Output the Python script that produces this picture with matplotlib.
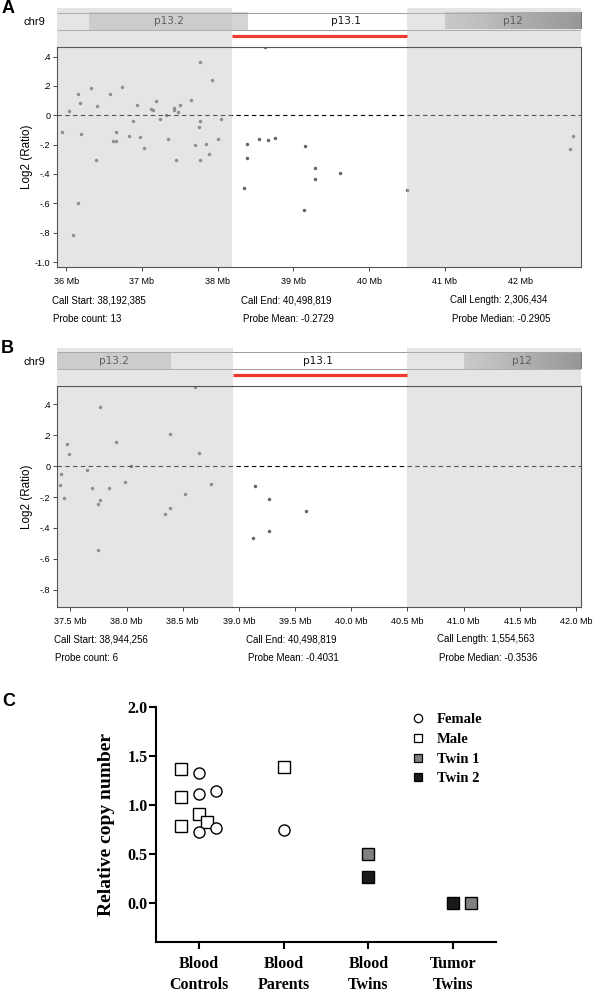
import matplotlib
matplotlib.use("Agg")
import matplotlib.pyplot as plt
import numpy as np
from matplotlib.lines import Line2D
from matplotlib.patches import Rectangle

# ---------------- data ----------------
# chr9 cytobands, Mb (hg19)
band_names = ["p13.3", "p13.2", "p13.1", "p12"]
band_start = [32.9, 36.3, 38.4, 41.0]
band_end = [36.3, 38.4, 41.0, 43.6]
band_stain = ["gneg", "gpos25", "gneg", "gpos50"]

# panel A probes: position (Mb), log2 ratio
a_pos = [35.94, 36.04, 36.15, 36.18, 36.20, 36.09, 36.15, 36.33, 36.41, 36.39,
         36.58, 36.65, 36.62, 36.66, 36.74, 36.83, 36.88, 36.93, 36.98, 37.02,
         37.12, 37.15, 37.18, 37.24, 37.32, 37.35, 37.42, 37.42, 37.45, 37.48,
         37.50, 37.65, 37.70, 37.76, 37.75, 37.77, 37.77, 37.85, 37.89, 37.92,
         38.00, 38.04,
         38.35, 38.39, 38.39, 38.54, 38.62, 38.66, 38.76, 39.14, 39.15, 39.29,
         39.29, 39.61, 40.50,
         42.65, 42.69]
a_ratio = [-0.116, 0.027, 0.143, 0.082, -0.130, -0.819, -0.601, 0.184, 0.061, -0.303,
           0.146, -0.116, -0.175, -0.175, 0.193, -0.143, -0.036, 0.071, -0.150, -0.223,
           0.043, 0.039, 0.100, -0.027, 0.002, -0.159, 0.050, 0.034, -0.303, 0.020,
           0.073, 0.107, -0.200, -0.041, -0.077, 0.360, -0.303, -0.193, -0.264, 0.243,
           -0.164, -0.027,
           -0.494, -0.196, -0.289, -0.159, 0.465, -0.171, -0.152, -0.644, -0.212, -0.360,
           -0.437, -0.391, -0.512,
           -0.232, -0.141]
a_call_start = 38192385
a_call_end = 40498819
a_probe_count = 13
a_probe_mean = -0.2729
a_probe_median = -0.2905
a_xticks = [36, 37, 38, 39, 40, 41, 42]
a_xticklabels = ["36 Mb", "37 Mb", "38 Mb", "39 Mb", "40 Mb", "41 Mb", "42 Mb"]
a_yticks = [0.4, 0.2, 0, -0.2, -0.4, -0.6, -0.8, -1.0]
a_yticklabels = [".4", ".2", "0", "-.2", "-.4", "-.6", "-.8", "-1.0"]

# panel B probes
b_pos = [37.408, 37.417, 37.444, 37.473, 37.488, 37.646, 37.696, 37.744, 37.764, 37.764,
         37.749, 37.842, 37.907, 37.984, 38.037, 38.340, 38.384, 38.384, 38.520, 38.607,
         38.648, 38.752,
         39.143, 39.125, 39.271, 39.271, 39.597]
b_ratio = [-0.119, -0.050, -0.205, 0.144, 0.078, -0.028, -0.144, -0.242, -0.220, 0.386,
           -0.541, -0.144, 0.155, -0.101, 0.002, -0.310, -0.274, 0.207, -0.179, 0.512,
           0.082, -0.114,
           -0.129, -0.464, -0.211, -0.420, -0.289]
b_call_start = 38944256
b_call_end = 40498819
b_probe_count = 6
b_probe_mean = -0.4031
b_probe_median = -0.3536
b_xticks = [37.5, 38.0, 38.5, 39.0, 39.5, 40.0, 40.5, 41.0, 41.5, 42.0]
b_xticklabels = ["37.5 Mb", "38.0 Mb", "38.5 Mb", "39.0 Mb", "39.5 Mb",
                 "40.0 Mb", "40.5 Mb", "41.0 Mb", "41.5 Mb", "42.0 Mb"]
b_yticks = [0.4, 0.2, 0, -0.2, -0.4, -0.6, -0.8]
b_yticklabels = [".4", ".2", "0", "-.2", "-.4", "-.6", "-.8"]

# panel C: relative copy number
groups = ["Blood\nControls", "Blood\nParents", "Blood\nTwins", "Tumor\nTwins"]
female_group = [0, 0, 0, 0, 0, 1]
female_cn = [1.32, 1.11, 0.72, 1.14, 0.76, 0.74]
male_group = [0, 0, 0, 0, 0, 1]
male_cn = [1.37, 1.08, 0.78, 0.91, 0.82, 1.39]
twin1_group = [2, 3]
twin1_cn = [0.50, 0.0]
twin2_group = [2, 3]
twin2_cn = [0.26, 0.0]
c_yticks = [0.0, 0.5, 1.0, 1.5, 2.0]
legend_labels = ["Female", "Male", "Twin 1", "Twin 2"]

# horizontal scatter of points inside a group (layout only)
female_dx = [0, 0, 0, 0.21, 0.21, 0]
male_dx = [-0.21, -0.21, -0.21, 0, 0.1, 0]
twin1_dx = [0, 0.21]
twin2_dx = [0, 0]

# ---------------- style / layout ----------------
W, H = 596, 992
SANS = "Liberation Sans"
SERIF = "Liberation Serif"
SHADE = "#c4c4c4"
SHADE_ALPHA = 0.44
stain_color = {"gneg": "#ffffff", "gpos25": "#d4d4d4"}

fig = plt.figure(figsize=(W / 100, H / 100), dpi=100)


def px_axes(left, top, right, bottom):
    return fig.add_axes([left / W, 1 - bottom / H, (right - left) / W, (bottom - top) / H])


def fig_text(x, y, s, **kw):
    fig.text(x / W, 1 - y / H, s, **kw)


def draw_header(ax, xlim, call_start, call_end):
    bar_lo, bar_hi = 17.2, 34.2
    for name, s, e, stain in zip(band_names, band_start, band_end, band_stain):
        s0, e0 = max(s, xlim[0]), min(e, xlim[1])
        if e0 <= s0:
            continue
        if stain == "gpos50":
            grad = np.linspace(0.30, 0.62, 64)[None, :]
            ax.imshow(grad, cmap="Greys", vmin=0, vmax=1, aspect="auto",
                      extent=(s0, e0, bar_lo, bar_hi), zorder=1)
        else:
            ax.add_patch(Rectangle((s0, bar_lo), e0 - s0, bar_hi - bar_lo,
                                   facecolor=stain_color[stain], edgecolor="none", zorder=1))
        if e0 - s0 > 0.6:
            ax.text((s0 + e0) / 2, (bar_lo + bar_hi) / 2, name, ha="center", va="center",
                    fontsize=7.5, family="DejaVu Sans", color="#111111", zorder=1.5)
    ax.hlines([bar_lo, bar_hi], xlim[0], xlim[1], color="#8c8c8c", lw=0.6, zorder=1.2)
    ax.axvspan(xlim[0], call_start, color=SHADE, alpha=SHADE_ALPHA, lw=0, zorder=2)
    ax.axvspan(call_end, xlim[1], color=SHADE, alpha=SHADE_ALPHA, lw=0, zorder=2)
    ax.hlines(10.8, call_start, call_end, color="#ee3a30", lw=2.3, zorder=3)
    ax.set_xlim(xlim)
    ax.set_ylim(0, 38.5)
    ax.axis("off")


def draw_cnv(ax, pos, ratio, xlim, ylim, call_start, call_end,
             xticks, xticklabels, yticks, yticklabels):
    ax.plot(pos, ratio, ls="none", marker="o", ms=2.5, mfc="#666666", mec="none", zorder=2)
    ax.axhline(0, color="black", lw=0.8, dashes=(4, 3), zorder=2)
    ax.axvspan(xlim[0], call_start, color=SHADE, alpha=SHADE_ALPHA, lw=0, zorder=2.4)
    ax.axvspan(call_end, xlim[1], color=SHADE, alpha=SHADE_ALPHA, lw=0, zorder=2.4)
    ax.set_xlim(xlim)
    ax.set_ylim(ylim)
    ax.set_xticks(xticks)
    ax.set_xticklabels(xticklabels, fontsize=6.5, family=SANS)
    ax.set_yticks(yticks)
    ax.set_yticklabels(yticklabels, fontsize=6.5, family=SANS)
    ax.tick_params(axis="both", direction="out", length=3, width=0.7, color="#444444")
    ax.tick_params(axis="x", pad=4.5)
    ax.tick_params(axis="y", pad=2)
    for sp in ax.spines.values():
        sp.set_color("#555555")
        sp.set_linewidth(0.8)


def footer(y, call_start, call_end, count, mean, median, xs):
    kw = dict(fontsize=7, family=SANS, va="center", ha="left")
    fig_text(xs[0], y, f"Call Start: {call_start:,}", **kw)
    fig_text(xs[1], y, f"Call End: {call_end:,}", **kw)
    fig_text(xs[2], y, f"Call Length: {call_end - call_start:,}", **kw)
    fig_text(xs[0] + 1, y + 19, f"Probe count: {count}", **kw)
    fig_text(xs[1] + 2, y + 19, f"Probe Mean: {mean:.4f}", **kw)
    fig_text(xs[2] + 2, y + 19, f"Probe Median: {median:.4f}", **kw)


# ---------------- panel A ----------------
a_xlim = (35.881, 42.80)
axA = px_axes(57.3, 46.7, 581, 266.7)
draw_cnv(axA, a_pos, a_ratio, a_xlim, (-1.032, 0.467), a_call_start / 1e6, a_call_end / 1e6,
         a_xticks, a_xticklabels, a_yticks, a_yticklabels)
hA = px_axes(57.3, 46.7 - 38.5, 581, 46.7)
draw_header(hA, a_xlim, a_call_start / 1e6, a_call_end / 1e6)
fig_text(26.7, 156.7, "Log2 (Ratio)", rotation=90, ha="center", va="center", fontsize=8.4, family=SANS)
fig_text(23, 22, "chr9", ha="left", va="center", fontsize=8, family=SANS)
fig_text(2, 8.5, "A", ha="left", va="center", fontsize=13, weight="bold", family=SANS)
footer(300, a_call_start, a_call_end, a_probe_count, a_probe_mean, a_probe_median, [52, 241, 450])

# ---------------- panel B ----------------
b_xlim = (37.384, 42.045)
axB = px_axes(57.3, 386.3, 581, 606.7)
draw_cnv(axB, b_pos, b_ratio, b_xlim, (-0.91, 0.517), b_call_start / 1e6, b_call_end / 1e6,
         b_xticks, b_xticklabels, b_yticks, b_yticklabels)
hB = px_axes(57.3, 386.3 - 38.5, 581, 386.3)
draw_header(hB, b_xlim, b_call_start / 1e6, b_call_end / 1e6)
fig_text(26.7, 496.5, "Log2 (Ratio)", rotation=90, ha="center", va="center", fontsize=8.4, family=SANS)
fig_text(23, 362, "chr9", ha="left", va="center", fontsize=8, family=SANS)
fig_text(1, 348.5, "B", ha="left", va="center", fontsize=13, weight="bold", family=SANS)
footer(639.3, b_call_start, b_call_end, b_probe_count, b_probe_mean, b_probe_median, [54, 246, 437])

# ---------------- panel C ----------------
axC = px_axes(156, 707, 496, 941.7)
xpos = np.arange(1, len(groups) + 1)
mk = dict(ls="none", ms=8, mec="black", mew=1.0)
axC.plot(xpos[male_group] + np.array(male_dx), male_cn, marker="s", mfc="white", **mk)
axC.plot(xpos[female_group] + np.array(female_dx), female_cn, marker="o", mfc="white", **mk)
axC.plot(xpos[twin1_group] + np.array(twin1_dx), twin1_cn, marker="s", mfc="#808080", **mk)
axC.plot(xpos[twin2_group] + np.array(twin2_dx), twin2_cn, marker="s", mfc="#1a1a1a", **mk)
axC.set_xlim(0.5, 4.5)
axC.set_ylim(-0.4, 2.0)
axC.set_xticks(xpos)
axC.set_xticklabels(groups, fontsize=11.5, family=SERIF, weight="bold", linespacing=1.45)
axC.set_yticks(c_yticks)
axC.set_yticklabels([f"{v:.1f}" for v in c_yticks], fontsize=11.5, family=SERIF, weight="bold")
axC.tick_params(axis="both", direction="out", length=4.8, width=1.5, color="black")
axC.tick_params(axis="x", pad=5.5)
axC.tick_params(axis="y", pad=1)
for side in ["top", "right"]:
    axC.spines[side].set_visible(False)
for side in ["left", "bottom"]:
    axC.spines[side].set_linewidth(1.5)
axC.patch.set_alpha(0)

lmk = dict(ls="none", ms=6, mec="black", mew=0.9)
handles = [Line2D([], [], marker="o", mfc="white", **lmk),
           Line2D([], [], marker="s", mfc="white", **lmk),
           Line2D([], [], marker="s", mfc="#808080", **lmk),
           Line2D([], [], marker="s", mfc="#1a1a1a", **lmk)]
axC.legend(handles, legend_labels, loc="upper left", bbox_to_anchor=(0.749, 0.975),
           frameon=False, prop=dict(family=SERIF, weight="bold", size=10.5),
           handlelength=1.0, handletextpad=0.8, labelspacing=0.45,
           borderpad=0, borderaxespad=0)

fig_text(106.8, 825, "Relative copy number", rotation=90, ha="center", va="center",
         fontsize=14, family=SERIF, weight="bold")
fig_text(2, 701.5, "C", ha="left", va="center", fontsize=13, weight="bold", family=SANS)

fig.savefig("out.png", dpi=100)
